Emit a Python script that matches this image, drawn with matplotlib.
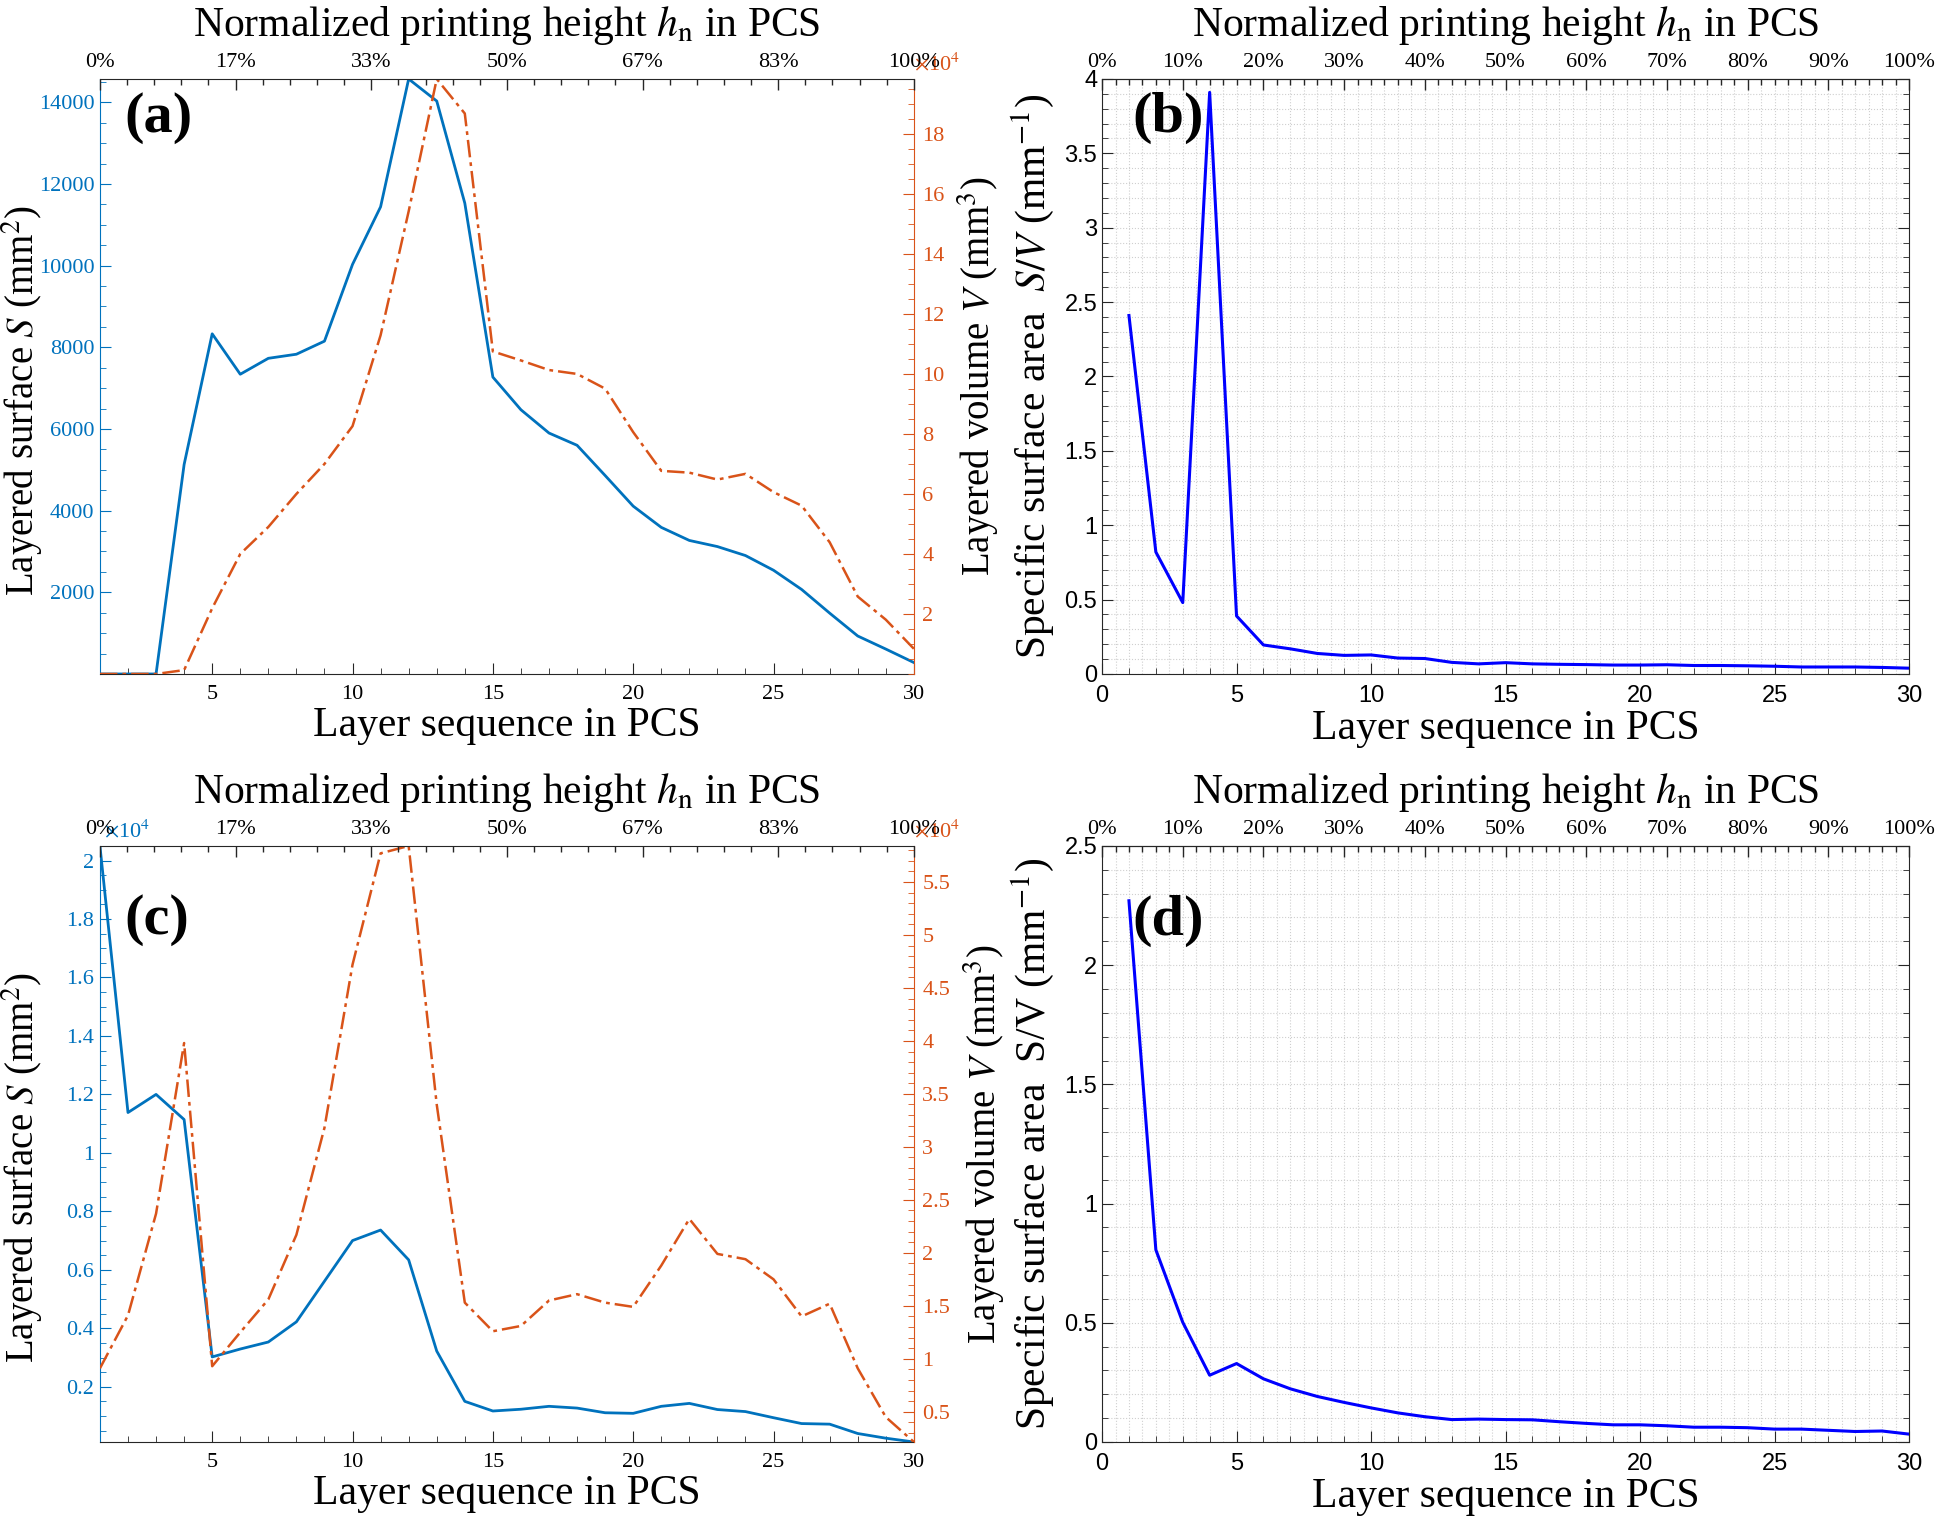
import matplotlib.pyplot as plt
from matplotlib.ticker import MultipleLocator, FixedLocator, FuncFormatter
import numpy as np

plt.rcParams['font.family'] = ['Liberation Serif', 'DejaVu Serif']
plt.rcParams['mathtext.fontset'] = 'stix'

# ---------------------------------------------------------------
# data, layer index 1..30
# ---------------------------------------------------------------
layers = np.arange(1, 31)

# (a) layered surface S (mm^2) and layered volume V (mm^3)
surf_a = [0, 0, 0, 5130, 8330, 7340, 7730, 7830, 8150, 10030,
          11440, 14570, 14030, 11530, 7270, 6470, 5900, 5600, 4860, 4110,
          3590, 3270, 3120, 2900, 2540, 2070, 1490, 930, 610, 280]
vol_a = [0, 0, 0, 1300, 21900, 40000, 49000, 60000, 70000, 82600,
         112900, 154200, 198300, 186800, 107500, 104500, 101300, 100000, 95100, 80600,
         67700, 67100, 64800, 66700, 60600, 56100, 43900, 25800, 18100, 8400]

# (b) specific surface area S/V (mm^-1)
sv_b = [2.41, 0.82, 0.48, 3.91, 0.39, 0.195, 0.169, 0.138, 0.125, 0.128,
        0.107, 0.104, 0.078, 0.068, 0.076, 0.068, 0.065, 0.063, 0.060, 0.060,
        0.062, 0.057, 0.057, 0.055, 0.052, 0.047, 0.047, 0.047, 0.044, 0.039]

# (c) layered surface S (mm^2) and layered volume V (mm^3)
surf_c = [20500, 11380, 12000, 11140, 3020, 3290, 3530, 4220, 5610, 7000,
          7360, 6340, 3220, 1500, 1170, 1230, 1330, 1270, 1110, 1090,
          1330, 1430, 1220, 1150, 940, 740, 720, 400, 240, 110]
vol_c = [9100, 14100, 23700, 39800, 9300, 12500, 15600, 21700, 31800, 47200,
         57700, 58400, 34000, 15300, 12600, 13100, 15500, 16100, 15300, 14900,
         18800, 23200, 19900, 19400, 17500, 14000, 15200, 9100, 4500, 2150]

# (d) specific surface area S/V (mm^-1)
sv_d = [2.27, 0.806, 0.502, 0.280, 0.329, 0.265, 0.223, 0.191, 0.166, 0.143,
        0.122, 0.106, 0.094, 0.096, 0.094, 0.093, 0.085, 0.078, 0.072, 0.072,
        0.068, 0.062, 0.062, 0.060, 0.054, 0.054, 0.049, 0.044, 0.046, 0.033]

ticks_a_left = [2000, 4000, 6000, 8000, 10000, 12000, 14000]
ticks_a_right = [20000, 40000, 60000, 80000, 100000, 120000, 140000, 160000, 180000]
ticks_c_left = [2000, 4000, 6000, 8000, 10000, 12000, 14000, 16000, 18000, 20000]
ticks_c_right = [5000, 10000, 15000, 20000, 25000, 30000, 35000, 40000, 45000, 50000, 55000]

BLUE = '#0072BD'
ORANGE = '#D95319'
DARK = '#262626'
LABEL_FS = 30
TICK_FS = 16
GRID_KW = dict(linestyle=':', color='#cfcfcf', linewidth=0.8)
TOP_LABEL = r"Normalized printing height $h_\mathrm{n}$ in PCS"
X_LABEL = "Layer sequence in PCS"


def top_axis_ticks(axt, x0, x1, n_major, n_minor):
    # percentage axis on top, linear from x0 (0%) to x1 (100%)
    major = [x0 + (x1 - x0) * k / n_major for k in range(n_major + 1)]
    minor = [x0 + (x1 - x0) * j / (n_major * n_minor) for j in range(n_major * n_minor + 1)]
    axt.set_xlim(x0, x1)
    axt.xaxis.set_major_locator(FixedLocator(major))
    axt.xaxis.set_minor_locator(FixedLocator(minor))
    axt.set_xticklabels([f"{round(100 * k / n_major)}%" for k in range(n_major + 1)])
    axt.tick_params(axis='x', which='both', direction='in', labelsize=TICK_FS, pad=5,
                    colors=DARK, labelcolor='black')
    axt.tick_params(axis='x', which='major', length=8, width=1)
    axt.tick_params(axis='x', which='minor', length=4, width=1)
    axt.set_xlabel(TOP_LABEL, fontsize=LABEL_FS, labelpad=12)
    for s in ['left', 'right', 'bottom']:
        axt.spines[s].set_visible(False)
    axt.spines['top'].set_color(DARK)


def dual_panel(pos, surf, vol, tag, s_ticks, v_ticks, s_minor, v_minor, left_sci, tag_y):
    ax = fig.add_axes(pos)
    axr = ax.twinx()
    axt = ax.twiny()

    ax.plot(layers, surf, color=BLUE, linewidth=2.0)
    axr.plot(layers, vol, color=ORANGE, linewidth=1.8, linestyle=(0, (7, 2, 1.5, 2)))

    ax.set_xlim(1, 30)
    ax.set_ylim(min(surf), max(surf))
    axr.set_ylim(min(vol), max(vol))

    ax.xaxis.set_major_locator(FixedLocator([5, 10, 15, 20, 25, 30]))
    ax.xaxis.set_minor_locator(MultipleLocator(1))
    ax.tick_params(axis='x', which='both', direction='in', labelsize=TICK_FS, pad=8, colors=DARK,
                   labelcolor='black')
    ax.tick_params(axis='x', which='major', length=8)
    ax.tick_params(axis='x', which='minor', length=4)

    ax.yaxis.set_major_locator(FixedLocator(s_ticks))
    ax.yaxis.set_minor_locator(MultipleLocator(s_minor))
    if left_sci:
        ax.yaxis.set_major_formatter(FuncFormatter(lambda v, p: f"{v / 1e4:g}"))
        ax.text(0.005, 1.006, r"$\times$10$^4$", transform=ax.transAxes, color=BLUE,
                fontsize=TICK_FS, ha='left', va='bottom')
    else:
        ax.yaxis.set_major_formatter(FuncFormatter(lambda v, p: f"{v:g}"))
    ax.tick_params(axis='y', which='both', direction='in', colors=BLUE, labelsize=TICK_FS, pad=4)
    ax.tick_params(axis='y', which='major', length=8)
    ax.tick_params(axis='y', which='minor', length=4)

    axr.yaxis.set_major_locator(FixedLocator(v_ticks))
    axr.yaxis.set_minor_locator(MultipleLocator(v_minor))
    axr.yaxis.set_major_formatter(FuncFormatter(lambda v, p: f"{v / 1e4:g}"))
    axr.tick_params(axis='y', which='both', direction='in', colors=ORANGE, labelsize=TICK_FS, pad=6)
    axr.tick_params(axis='y', which='major', length=8)
    axr.tick_params(axis='y', which='minor', length=4)
    axr.text(1.0, 1.006, r"$\times$10$^4$", transform=ax.transAxes, color=ORANGE,
             fontsize=TICK_FS, ha='left', va='bottom')

    ax.spines['left'].set_color(BLUE)
    ax.spines['right'].set_visible(False)
    ax.spines['top'].set_visible(False)
    ax.spines['bottom'].set_color(DARK)
    for s in ['left', 'top', 'bottom']:
        axr.spines[s].set_visible(False)
    axr.spines['right'].set_color(ORANGE)

    top_axis_ticks(axt, 1, 30, 6, 5)

    ax.set_xlabel(X_LABEL, fontsize=LABEL_FS, labelpad=2)
    ax.set_ylabel(r"Layered surface $S$ (mm$^2$)", fontsize=28)
    ax.yaxis.set_label_coords(-0.068, 0.46)
    axr.set_ylabel(r"Layered volume $V$ (mm$^3$)", fontsize=28, labelpad=8)

    ax.text(0.03, tag_y, tag, transform=ax.transAxes, fontsize=42, fontweight='bold',
            ha='left', va='center')


def sv_panel(pos, sv, tag, ymax, ylabel, tag_y):
    ax = fig.add_axes(pos)
    axt = ax.twiny()
    # keep the data axes above the top axis so the grid stays behind the line
    ax.set_zorder(axt.get_zorder() + 1)
    ax.patch.set_visible(False)

    ax.plot(layers, sv, color='#0000FF', linewidth=2.2)
    ax.set_xlim(0, 30)
    ax.set_ylim(0, ymax)

    ax.xaxis.set_major_locator(MultipleLocator(5))
    ax.xaxis.set_minor_locator(MultipleLocator(1))
    ax.yaxis.set_major_locator(MultipleLocator(0.5))
    ax.yaxis.set_minor_locator(MultipleLocator(0.1))
    ax.yaxis.set_major_formatter(FuncFormatter(lambda v, p: f"{v:g}"))
    ax.tick_params(axis='both', which='both', direction='in', colors=DARK, labelcolor='black',
                   labelsize=TICK_FS + 1, right=True)
    ax.tick_params(axis='both', which='major', length=8)
    ax.tick_params(axis='both', which='minor', length=4)
    ax.tick_params(axis='x', pad=8)
    for lab in ax.get_xticklabels() + ax.get_yticklabels():
        lab.set_family('Liberation Sans')
    ax.grid(True, axis='y', which='both', **GRID_KW)
    for s in ax.spines.values():
        s.set_color(DARK)

    top_axis_ticks(axt, 0, 30, 10, 6)
    axt.grid(True, axis='x', which='both', **GRID_KW)

    ax.set_xlabel(X_LABEL, fontsize=LABEL_FS, labelpad=2)
    ax.set_ylabel(ylabel, fontsize=30, labelpad=6)
    ax.text(0.038, tag_y, tag, transform=ax.transAxes, fontsize=42, fontweight='bold',
            ha='left', va='center')


fig = plt.figure(figsize=(19.44, 15.19), dpi=100)

dual_panel([0.0514, 0.5563, 0.4187, 0.3917], surf_a, vol_a, '(a)',
           ticks_a_left, ticks_a_right, 500, 5000, False, 0.935)
sv_panel([0.5669, 0.5563, 0.4151, 0.3917], sv_b, '(b)', 4,
         r"Specific surface area  $S/V$ (mm$^{-1}$)", 0.935)
dual_panel([0.0514, 0.0507, 0.4187, 0.3924], surf_c, vol_c, '(c)',
           ticks_c_left, ticks_c_right, 500, 1000, True, 0.875)
sv_panel([0.5669, 0.0507, 0.4151, 0.3924], sv_d, '(d)', 2.5,
         r"Specific surface area  S/V (mm$^{-1}$)", 0.875)

plt.savefig('out.png', dpi=100)
plt.close()
